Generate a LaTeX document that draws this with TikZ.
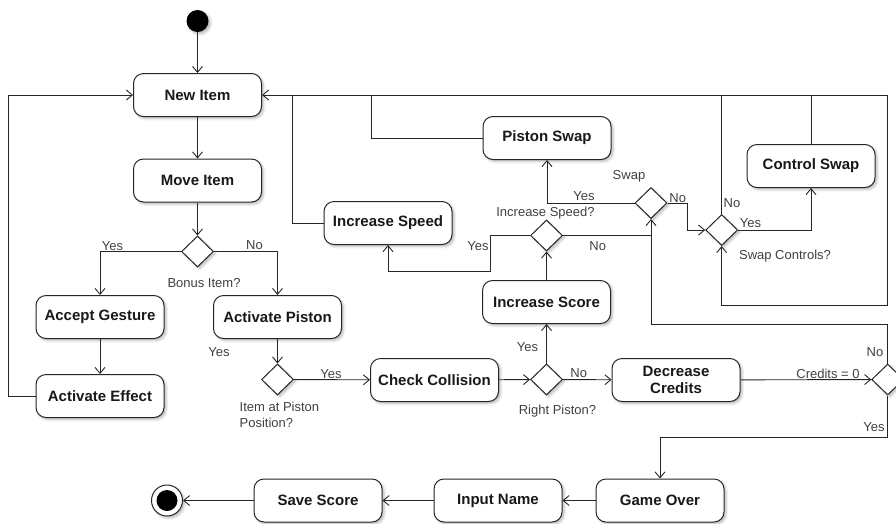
\documentclass[tikz,border=0pt]{standalone}
\usepackage{fontspec}
\setmainfont{Liberation Sans}
\usetikzlibrary{arrows.meta,shapes.geometric,shadows.blur}
\begin{document}
\begin{tikzpicture}[x=1pt,y=-1pt,
  softshadow/.style={blur shadow={shadow xshift=2pt,shadow yshift=-2pt,shadow blur radius=2.5pt,shadow opacity=28}},
  act/.style={draw=black!85,line width=1pt,rounded corners=10pt,fill=white,
    minimum width=128pt,minimum height=43pt,inner sep=2pt,align=center,
    font=\fontsize{15}{16.5}\selectfont\bfseries,text=black!90,softshadow},
  dec/.style={diamond,draw=black!85,line width=1pt,fill=white,
    minimum width=32pt,minimum height=31pt,inner sep=0pt,softshadow},
  link/.style={draw=black!85,line width=0.9pt},
  flow/.style={link,-{Straight Barb[length=6pt,width=10pt]}},
  lbl/.style={font=\fontsize{13}{16}\selectfont,text=black!75,inner sep=0pt},
]
\useasboundingbox (0,0) rectangle (896,523);

% start / end
\node[circle,fill=black,minimum size=22pt,inner sep=0pt,softshadow] (start) at (197.5,21) {};
\node[circle,draw=black!85,line width=1pt,fill=white,minimum size=31pt,inner sep=0pt,softshadow] (finish) at (167,500.5) {};
\node[circle,fill=black,minimum size=21pt,inner sep=0pt] (finishdot) at (finish) {};

% actions
\node[act] (newitem)    at (197.5,95)  {New Item};
\node[act] (moveitem)   at (197.5,180.5) {Move Item};
\node[act] (accept)     at (100,317)   {Accept Gesture};
\node[act] (effect)     at (100,396)   {Activate Effect};
\node[act] (piston)     at (277.5,317) {Activate Piston};
\node[act] (check)      at (434.5,380) {Check Collision};
\node[act] (incscore)   at (546.5,302) {Increase Score};
\node[act] (incspeed)   at (388,223)   {Increase Speed};
\node[act] (pistonswap) at (547,138)   {Piston Swap};
\node[act] (ctrlswap)   at (811,166)   {Control Swap};
\node[act] (decrease)   at (676,380)   {Decrease\\Credits};
\node[act] (gameover)   at (660,500.5) {Game Over};
\node[act] (inputname)  at (498,500.5) {Input Name};
\node[act] (savescore)  at (318,500.5) {Save Score};

% decisions
\node[dec] (bonus)    at (197.5,251.5) {};
\node[dec] (itempos)  at (277.5,379.5) {};
\node[dec] (rightp)   at (546.5,379.5) {};
\node[dec] (credits)  at (887.7,379.5) {};
\node[dec] (isq)      at (546.5,235.5) {};
\node[dec] (swap)     at (651,203)     {};
\node[dec] (swapctrl) at (721.7,230)   {};

% junction points
\coordinate (topR) at (887.7,95);
\coordinate (midR) at (887.7,305);
\coordinate (lowR) at (887.7,324);
\coordinate (jA) at (292.7,95);
\coordinate (jB) at (371.7,95);
\coordinate (ysBend) at (490,271);

% main column
\draw[flow] (start) -- (newitem);
\draw[flow] (newitem) -- (moveitem);
\draw[flow] (moveitem) -- (bonus);
\draw[flow] (bonus.west) -| (accept.north);
\draw[flow] (bonus.east) -| (piston.north);
\draw[flow] (accept) -- (effect);
\draw[flow] (effect.west) -- ++(-27,0) |- (newitem.west);
\draw[flow] (piston) -- (itempos);
\draw[flow] (itempos) -- (check);
\draw[flow] (check) -- (rightp);
\draw[flow] (rightp) -- (incscore);
\draw[flow] (rightp) -- (decrease);
\draw[flow] (decrease) -- (credits);
\draw[flow] (credits.south) -- ++(0,42) -| (gameover.north);
\draw[flow] (gameover) -- (inputname);
\draw[flow] (inputname) -- (savescore);
\draw[flow] (savescore) -- (finish);

% upper loop
\draw[flow] (incscore) -- (isq);
\draw[flow] (isq.west) -| (ysBend) -| (incspeed.south);
\draw[link] (isq.east) -- (isq.east -| swap.south);
\draw[flow] (credits.north) -- (lowR) -| (swap.south);
\draw[flow] (swap.west) -| (pistonswap.south);
\draw[flow] (swap.east) -- ++(20,0) |- (swapctrl.west);
\draw[flow] (swapctrl.east) -| (ctrlswap.south);
\draw[link] (swapctrl.north) -- (swapctrl.north |- topR);
\draw[link] (ctrlswap.north) -- (ctrlswap.north |- topR);
\draw[flow] (topR) -- (midR) -| (swapctrl.south);
\draw[flow] (topR) -- (newitem.east);
\draw[link] (incspeed.west) -| (jA);
\draw[link] (pistonswap.west) -| (jB);

% guard labels
\node[lbl] (l1)  at (112.5,246)   {Yes};
\node[lbl] (l2)  at (254.5,245)   {No};
\node[lbl] (l3)  at (204,283.5)   {Bonus Item?};
\node[lbl] (l4)  at (219,352.5)   {Yes};
\node[lbl,anchor=north west,align=left] (l5) at (239.5,401.5) {Item at Piston\\Position?};
\node[lbl] (l6)  at (331,374.5)   {Yes};
\node[lbl] (l7)  at (527.5,347)   {Yes};
\node[lbl] (l8)  at (578.7,373)   {No};
\node[lbl] (l9)  at (557.5,411.5) {Right Piston?};
\node[lbl] (l10) at (828,373.5)   {Credits = 0};
\node[lbl] (l11) at (875,352.5)   {No};
\node[lbl] (l12) at (874,427.5)   {Yes};
\node[lbl] (l13) at (478,246)     {Yes};
\node[lbl] (l14) at (545.5,213.5) {Increase Speed?};
\node[lbl] (l15) at (597.7,246)   {No};
\node[lbl] (l16) at (629,176.5)   {Swap};
\node[lbl] (l17) at (584,196)     {Yes};
\node[lbl] (l18) at (677.7,198)   {No};
\node[lbl] (l19) at (732,203)     {No};
\node[lbl] (l20) at (750.5,223)   {Yes};
\node[lbl] (l21) at (785,256.5)   {Swap Controls?};
\end{tikzpicture}
\end{document}
